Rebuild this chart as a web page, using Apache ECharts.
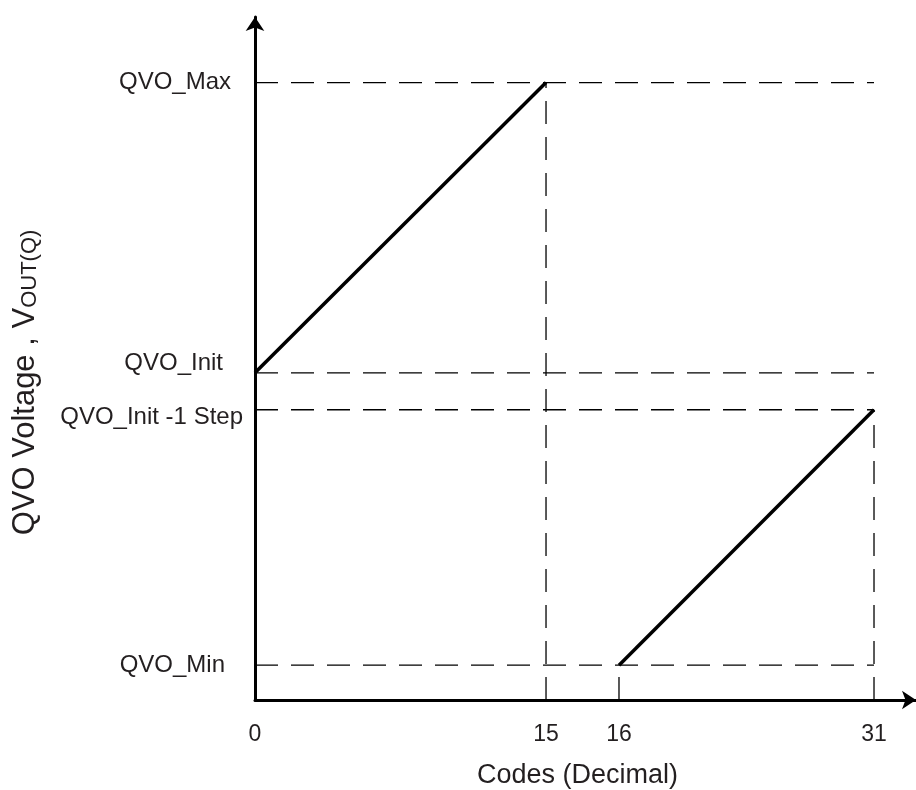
<!DOCTYPE html>
<html>
<head>
<meta charset="utf-8">
<script src="https://cdn.jsdelivr.net/npm/echarts@6/dist/echarts.min.js"></script>
<style>html,body{margin:0;padding:0;background:#fff}#c{width:916px;height:790px}</style>
</head>
<body>
<div id="c"></div>
<script>
// ---- data ----
var levelNames = ['QVO_Min', 'QVO_Init -1 Step', 'QVO_Init', 'QVO_Max'];
var levelValues = [5.1, 42.5, 47.9, 90.4];   // voltage levels (arbitrary units, 0..100)
var xTicksLow = [0, 15];
var xTicksHigh = [16, 31];
var rampLowCodes = [0, 15];
var rampLowValues = [47.9, 90.4];   // QVO_Init -> QVO_Max
var rampHighCodes = [16, 31];
var rampHighValues = [5.1, 42.5];   // QVO_Min -> QVO_Init -1 Step

// axis ranges (schematic axis: two code ranges with a gap between 15 and 16)
var yMax = 100;
var x0Max = 34.07;
var x1Min = -5.41, x1Max = 33.47;

var txt = '#231f20';
var font = 'Liberation Sans, Arial, sans-serif';
var labelPad = {
  'QVO_Min': [0, 18, 0, 0],
  'QVO_Init -1 Step': [16, 0, 0, 0],
  'QVO_Init': [0, 20, 18, 0],
  'QVO_Max': [0, 12, 0, 0]
};
var rich = {};
levelNames.forEach(function (n, i) {
  rich['l' + i] = { fontSize: 24, color: txt, fontFamily: font, padding: labelPad[n] };
});

var dash = { color: '#000', width: 1.3, type: [23, 13] };
var series = [];
// horizontal dashed reference lines
levelValues.forEach(function (v) {
  series.push({ type: 'line', xAxisIndex: 1, yAxisIndex: 0, symbol: 'none', silent: true,
    lineStyle: dash, data: [[x1Min, v], [31, v]] });
});
// vertical dashed lines
series.push({ type: 'line', xAxisIndex: 0, symbol: 'none', silent: true, lineStyle: dash,
  data: [[15, 0], [15, rampLowValues[1]]] });
series.push({ type: 'line', xAxisIndex: 1, symbol: 'none', silent: true, lineStyle: dash,
  data: [[16, 0], [16, rampHighValues[0]]] });
series.push({ type: 'line', xAxisIndex: 1, symbol: 'none', silent: true, lineStyle: dash,
  data: [[31, 0], [31, rampHighValues[1]]] });
// ramps
series.push({ type: 'line', xAxisIndex: 0, symbol: 'none', lineStyle: { color: '#000', width: 3.5 },
  data: rampLowCodes.map(function (c, i) { return [c, rampLowValues[i]]; }) });
series.push({ type: 'line', xAxisIndex: 1, symbol: 'none', lineStyle: { color: '#000', width: 3.5 },
  data: rampHighCodes.map(function (c, i) { return [c, rampHighValues[i]]; }) });

var chart = echarts.init(document.getElementById('c'), null, { renderer: 'canvas' });
chart.setOption({
  animation: false,
  backgroundColor: '#fff',
  grid: { left: 255, right: 0, top: 17, bottom: 90, containLabel: false, outerBoundsMode: 'none' },
  xAxis: [{
    type: 'value', min: 0, max: x0Max, position: 'bottom',
    axisLine: { show: true, lineStyle: { color: '#000', width: 3 }, symbol: ['none', 'arrow'], symbolSize: [14, 14] },
    axisTick: { show: false }, splitLine: { show: false },
    axisLabel: { customValues: xTicksLow, margin: 23, fontSize: 23, color: txt, fontFamily: font },
    name: 'Codes (Decimal)', nameLocation: 'middle', nameGap: 62,
    nameTextStyle: { fontSize: 27, color: txt, fontFamily: font, padding: [0, 16, 0, 0] }
  }, {
    type: 'value', min: x1Min, max: x1Max, position: 'bottom', offset: 0,
    axisLine: { show: false }, axisTick: { show: false }, splitLine: { show: false },
    axisLabel: { customValues: xTicksHigh, margin: 23, fontSize: 23, color: txt, fontFamily: font }
  }],
  yAxis: [{
    type: 'value', min: 0, max: yMax,
    axisLine: { show: true, lineStyle: { color: '#000', width: 3 }, symbol: ['none', 'arrow'], symbolSize: [14, 14] },
    axisTick: { show: false }, splitLine: { show: false },
    axisLabel: {
      customValues: levelValues, margin: 12, rich: rich,
      formatter: function (v) {
        var i = levelValues.indexOf(v);
        return i < 0 ? '' : '{l' + i + '|' + levelNames[i] + '}';
      }
    },
    name: '{a|QVO Voltage , V}{b|OUT(Q)}', nameLocation: 'middle', nameRotate: 90, nameGap: 214,
    nameTextStyle: {
      rich: {
        a: { fontSize: 31, lineHeight: 31, color: txt, fontFamily: font, verticalAlign: 'top' },
        b: { fontSize: 22, lineHeight: 22, color: txt, fontFamily: font, verticalAlign: 'bottom', padding: [15, 0, 0, 0] }
      },
      padding: [0, 48, 0, 0]
    }
  }],
  series: series
});
</script>
</body>
</html>
